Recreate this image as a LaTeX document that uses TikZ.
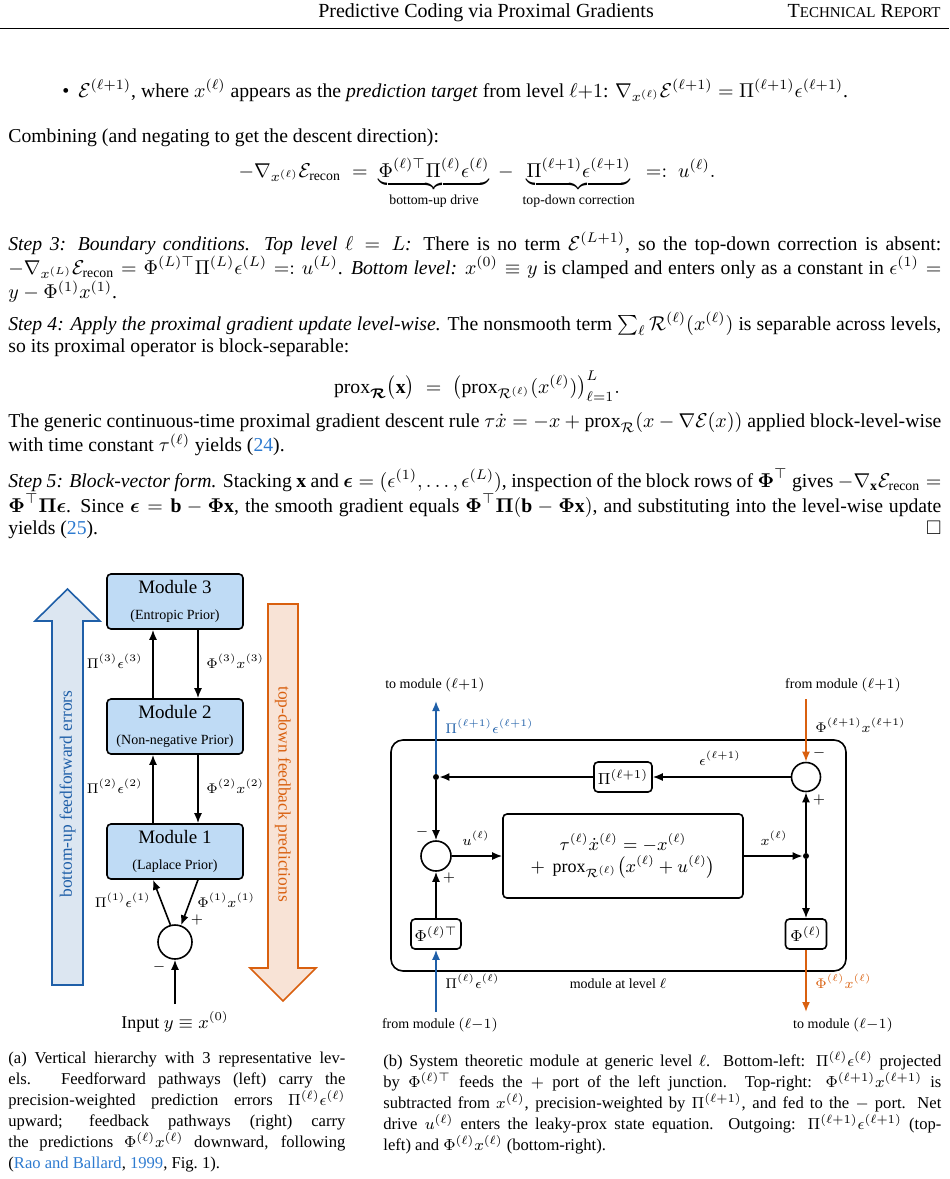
\documentclass[tikz,border=0pt]{standalone}
\usepackage{amsmath,amssymb,bm}
\usepackage{fontspec}
\setmainfont{Liberation Serif}
\usetikzlibrary{arrows.meta}
\definecolor{ublue}{HTML}{1F5FA8}
\definecolor{lblue}{HTML}{2E7BD0}
\definecolor{uorange}{HTML}{D9600F}
\definecolor{modfill}{HTML}{BFDBF5}
\definecolor{arrbfill}{HTML}{DCE6F1}
\definecolor{arrofill}{HTML}{F8E3D6}
\newcommand{\smc}[1]{{\fontsize{7.5}{9}\selectfont #1}}
\begin{document}
\begin{tikzpicture}[x=0.5pt,y=-0.5pt,
  txt/.style={inner sep=0pt,anchor=base west,align=justify,text width=466.5pt,font=\fontsize{9.85}{11}\selectfont},
  captxt/.style={inner sep=0pt,anchor=base west,align=justify,font=\fontsize{8.3}{10.5}\selectfont},
  module/.style={draw,thick,rounded corners=2pt,fill=modfill,minimum width=68pt,minimum height=27.5pt,align=center,inner sep=0pt,font=\fontsize{9.5}{11}\selectfont},
  sum/.style={draw,thick,circle,minimum size=#1,inner sep=0pt},
  blk/.style={draw,thick,rounded corners=2pt,inner sep=0pt},
  dot/.style={circle,fill,inner sep=0pt,minimum size=3pt},
  arr/.style={thick,-{Latex[length=5pt,width=4pt]}},
  lab/.style={font=\fontsize{7.5}{9}\selectfont,inner sep=0pt},
  small/.style={font=\fontsize{7}{8.5}\selectfont,inner sep=0pt}]
\useasboundingbox (0,0) rectangle (949,1179);
% header
\node[inner sep=0pt,anchor=base] (h1) at (486,17) {\fontsize{10}{12}\selectfont Predictive Coding via Proximal Gradients};
\node[inner sep=0pt,anchor=base east] (h2) at (941,17) {\fontsize{10}{12}\selectfont T\smc{ECHNICAL} R\smc{EPORT}};
\draw[line width=0.4pt] (0,28) -- (949,28);
% text
\node[inner sep=0pt,anchor=base] (bul) at (66,97) {\fontsize{10}{11}\selectfont\textbullet};
\node[txt,text width=430pt] (t1) at (78,97) {$\mathcal{E}^{(\ell+1)}$, where $x^{(\ell)}$ appears as the \emph{prediction target} from level $\ell{+}1$: $\nabla_{x^{(\ell)}}\mathcal{E}^{(\ell+1)} = \Pi^{(\ell+1)}\epsilon^{(\ell+1)}$.};
\node[txt] (t2) at (8,142) {Combining (and negating to get the descent direction):};
\node[inner sep=0pt,anchor=base,font=\fontsize{9.85}{11}\selectfont] (eq1) at (477,177) {$-\nabla_{x^{(\ell)}}\mathcal{E}_{\text{recon}} \;=\; \underbrace{\Phi^{(\ell)\top}\Pi^{(\ell)}\epsilon^{(\ell)}}_{\text{bottom-up drive}} \;-\; \underbrace{\Pi^{(\ell+1)}\epsilon^{(\ell+1)}}_{\text{top-down correction}} \;=:\; u^{(\ell)}.$};
\node[txt] (t3) at (8,250) {\emph{Step 3: Boundary conditions. Top level $\ell = L$:} There is no term $\mathcal{E}^{(L+1)}$, so the top-down correction is absent:\linebreak $-\nabla_{x^{(L)}}\mathcal{E}_{\text{recon}} = \Phi^{(L)\top}\Pi^{(L)}\epsilon^{(L)} =: u^{(L)}$. \emph{Bottom level:} $x^{(0)}\equiv y$ is clamped and enters only as a constant in $\epsilon^{(1)} =$\linebreak $y-\Phi^{(1)}x^{(1)}$.};
\node[txt] (t4) at (8,330) {\emph{Step 4: Apply the proximal gradient update level-wise.} The nonsmooth term $\sum_\ell \mathcal{R}^{(\ell)}(x^{(\ell)})$ is separable across levels, so its proximal operator is block-separable:};
\node[inner sep=0pt,anchor=base,font=\fontsize{9.85}{11}\selectfont] (eq2) at (477,393) {$\operatorname{prox}_{\bm{\mathcal{R}}}\bigl(\mathbf{x}\bigr) \;=\; \bigl(\operatorname{prox}_{\mathcal{R}^{(\ell)}}(x^{(\ell)})\bigr)_{\ell=1}^{L}.$};
\node[txt] (t5) at (8,427) {The generic continuous-time proximal gradient descent rule $\tau\dot{x} = -x + \operatorname{prox}_{\mathcal{R}}(x-\nabla\mathcal{E}(x))$ applied block-level-wise with time constant $\tau^{(\ell)}$ yields (\textcolor{lblue}{24}).};
\node[txt] (t6) at (8,487) {\emph{Step 5: Block-vector form.} Stacking $\mathbf{x}$ and $\bm{\epsilon} = (\epsilon^{(1)},\dots,\epsilon^{(L)})$, inspection of the block rows of $\bm{\Phi}^\top$ gives $-\nabla_{\mathbf{x}}\mathcal{E}_{\text{recon}} = \bm{\Phi}^\top\bm{\Pi}\bm{\epsilon}$. Since $\bm{\epsilon} = \mathbf{b}-\bm{\Phi}\mathbf{x}$, the smooth gradient equals $\bm{\Phi}^\top\bm{\Pi}(\mathbf{b}-\bm{\Phi}\mathbf{x})$, and substituting into the level-wise update yields (\textcolor{lblue}{25}).\hfill$\square$};
% ---------- (a)
\draw[ublue,thick,fill=arrbfill] (52,985) -- (52,621) -- (35,621) -- (67.5,589) -- (100,621) -- (83,621) -- (83,985) -- cycle;
\node[rotate=90,text=ublue,font=\fontsize{8.7}{10}\selectfont,inner sep=0pt] (bu) at (67.5,794) {bottom-up feedforward errors};
\draw[uorange,thick,fill=arrofill] (268,604) -- (298,604) -- (298,968) -- (316,968) -- (283,1001) -- (250,968) -- (268,968) -- cycle;
\node[rotate=-90,text=uorange,font=\fontsize{8.7}{10}\selectfont,inner sep=0pt] (td) at (283,794) {top-down feedback predictions};
\node[module] (m3) at (175,601.5) {Module 3\\[2pt]{\fontsize{7}{8}\selectfont (Entropic Prior)}};
\node[module] (m2) at (175,726.5) {Module 2\\[2pt]{\fontsize{7}{8}\selectfont (Non-negative Prior)}};
\node[module] (m1) at (175,851.5) {Module 1\\[2pt]{\fontsize{7}{8}\selectfont (Laplace Prior)}};
\node[sum=17pt] (s0) at (175,942) {};
\coordinate (in) at (175,1004);
\draw[arr] ([xshift=-11pt]m2.north) -- ([xshift=-11pt]m3.south);
\draw[arr] ([xshift=11.5pt]m3.south) -- ([xshift=11.5pt]m2.north);
\draw[arr] ([xshift=-11pt]m1.north) -- ([xshift=-11pt]m2.south);
\draw[arr] ([xshift=11.5pt]m2.south) -- ([xshift=11.5pt]m1.north);
\draw[arr] (s0.105) -- ([xshift=-11pt]m1.south);
\draw[arr] ([xshift=11.5pt]m1.south) -- (s0.70);
\node[lab,anchor=base east] (l3a) at (143,668) {$\Pi^{(3)}\epsilon^{(3)}$};
\node[lab,anchor=base west] (l3b) at (206,668) {$\Phi^{(3)}x^{(3)}$};
\node[lab,anchor=base east] (l2a) at (143,793) {$\Pi^{(2)}\epsilon^{(2)}$};
\node[lab,anchor=base west] (l2b) at (206,793) {$\Phi^{(2)}x^{(2)}$};
\node[lab,anchor=base east] (l1a) at (151,907) {$\Pi^{(1)}\epsilon^{(1)}$};
\node[lab,anchor=base west] (l1b) at (197,907) {$\Phi^{(1)}x^{(1)}$};
\node[lab] (pa) at (197,920) {$+$};
\node[lab] (ma) at (159,967) {$-$};
\draw[arr] (in) -- (s0.south);
\node[inner sep=0pt,anchor=base,font=\fontsize{9}{11}\selectfont] (inl) at (175,1028) {Input $y\equiv x^{(0)}$};
% ---------- (b)
\draw[thick,rounded corners=6pt] (391,740) rectangle (846,971);
\node[sum=14.5pt] (sr) at (806,777) {};
\node[sum=15pt] (sl) at (436,856) {};
\node[blk,minimum width=29pt,minimum height=15pt,font=\fontsize{8.5}{10}\selectfont] (pib) at (623,777) {$\Pi^{(\ell+1)}$};
\node[blk,minimum width=120pt,minimum height=42pt,align=center,font=\fontsize{9}{11}\selectfont] (mb) at (623,856) {$\tau^{(\ell)}\dot{x}^{(\ell)} = -x^{(\ell)}$\\$+\ \operatorname{prox}_{\mathcal{R}^{(\ell)}}\bigl(x^{(\ell)}+u^{(\ell)}\bigr)$};
\node[blk,minimum width=25pt,minimum height=15pt,font=\fontsize{8.5}{10}\selectfont] (phit) at (436,934) {$\Phi^{(\ell)\top}$};
\node[blk,minimum width=20.5pt,minimum height=15pt,font=\fontsize{8.5}{10}\selectfont] (phi) at (806,934) {$\Phi^{(\ell)}$};
\node[dot] (dl) at (436,777) {};
\node[dot] (dr) at (806,856) {};
\coordinate (tu) at (436,701);
\coordinate (fu) at (806,699);
\coordinate (fd) at (436,1012);
\coordinate (td2) at (806,1012);
\draw[arr,ublue] (dl) -- (tu);
\node[small,anchor=base] (tul) at (435,688) {to module $(\ell{+}1)$};
\node[small,text=ublue,anchor=base west] (bl1) at (445,733) {$\Pi^{(\ell+1)}\epsilon^{(\ell+1)}$};
\draw[arr,uorange] (fu) -- (sr.north);
\node[small,anchor=base] (ful) at (843,688) {from module $(\ell{+}1)$};
\node[small,anchor=base west] (or1) at (815,732) {$\Phi^{(\ell+1)}x^{(\ell+1)}$};
\node[small] (mr) at (819,753) {$-$};
\node[small] (pr) at (819,800) {$+$};
\draw[arr] (sr.west) -- (pib.east);
\node[small,anchor=base] (el) at (720,765) {$\epsilon^{(\ell+1)}$};
\draw[arr] (pib.west) -- (dl);
\draw[arr] (dl) -- (sl.north);
\node[small] (ml) at (422,832) {$-$};
\node[small] (pl) at (449,878) {$+$};
\draw[arr] (phit.north) -- (sl.south);
\draw[arr,ublue] (fd) -- (phit.south);
\node[small,anchor=base west] (bl2) at (445,988) {$\Pi^{(\ell)}\epsilon^{(\ell)}$};
\node[small,anchor=base] (fdl) at (440,1028) {from module $(\ell{-}1)$};
\draw[arr] (sl.east) -- (mb.west);
\node[small,anchor=base] (ul) at (476,845) {$u^{(\ell)}$};
\draw[arr] (mb.east) -- (dr);
\node[small,anchor=base] (xl) at (774,845) {$x^{(\ell)}$};
\draw[arr] (dr) -- (sr.south);
\draw[arr] (dr) -- (phi.north);
\draw[arr,uorange] (phi.south) -- (td2);
\node[small,text=uorange,anchor=base west] (or2) at (815,988) {$\Phi^{(\ell)}x^{(\ell)}$};
\node[small,anchor=base] (tdl) at (843,1028) {to module $(\ell{-}1)$};
\node[small,anchor=base] (mod) at (618,988) {module at level $\ell$};
% captions
\node[captxt,text width=168.5pt] (ca) at (8,1063) {(a) Vertical hierarchy with 3 representative lev-\linebreak els. Feedforward pathways (left) carry the\linebreak precision-weighted prediction errors $\Pi^{(\ell)}\epsilon^{(\ell)}$\linebreak upward; feedback pathways (right) carry\linebreak the predictions $\Phi^{(\ell)}x^{(\ell)}$ downward, following\linebreak (\textcolor{lblue}{Rao and Ballard}, \textcolor{lblue}{1999}, Fig.~1).};
\node[captxt,text width=279pt] (cb) at (383,1066) {(b) System theoretic module at generic level $\ell$. Bottom-left: $\Pi^{(\ell)}\epsilon^{(\ell)}$ projected\linebreak by $\Phi^{(\ell)\top}$ feeds the $+$ port of the left junction. Top-right: $\Phi^{(\ell+1)}x^{(\ell+1)}$ is\linebreak subtracted from $x^{(\ell)}$, precision-weighted by $\Pi^{(\ell+1)}$, and fed to the $-$ port. Net\linebreak drive $u^{(\ell)}$ enters the leaky-prox state equation. Outgoing: $\Pi^{(\ell+1)}\epsilon^{(\ell+1)}$ (top-\linebreak left) and $\Phi^{(\ell)}x^{(\ell)}$ (bottom-right).};
\end{tikzpicture}
\end{document}
